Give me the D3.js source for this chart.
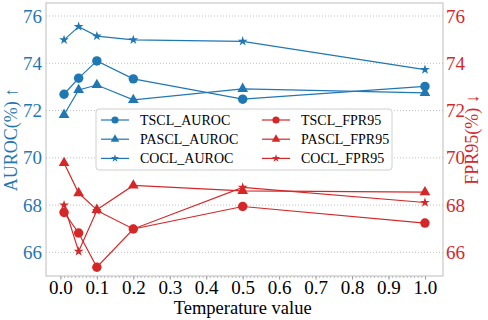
<!DOCTYPE html>
<html>
<head>
<meta charset="utf-8">
<script src="https://cdn.jsdelivr.net/npm/d3@7"></script>
<style>
  body { margin: 0; background: #fff; }
  svg, text { font-family: "Liberation Serif", "DejaVu Serif", serif; }
</style>
</head>
<body>
<div id="chart"></div>
<script>
// temperature values on the x axis
const temps = [0.01, 0.05, 0.1, 0.2, 0.5, 1.0];
const xTicks = [0, 0.1, 0.2, 0.3, 0.4, 0.5, 0.6, 0.7, 0.8, 0.9, 1.0];
const yTicks = [66, 68, 70, 72, 74, 76];

// AUROC series (left axis)
const tsclAuroc  = [72.69, 73.37, 74.10, 73.34, 72.48, 73.02];
const pasclAuroc = [71.82, 72.87, 73.08, 72.45, 72.92, 72.75];
const coclAuroc  = [74.99, 75.55, 75.15, 74.99, 74.93, 73.73];

// FPR95 series (right axis)
const tsclFpr  = [67.69, 66.82, 65.37, 66.99, 67.94, 67.24];
const pasclFpr = [69.78, 68.51, 67.80, 68.83, 68.60, 68.55];
const coclFpr  = [68.00, 66.04, 67.77, 66.99, 68.75, 68.11];

const blue = "#1f77b4", red = "#d62728";

const series = [
  {name: "TSCL_AUROC", values: tsclAuroc, color: blue, marker: "circle", axis: "left"},
  {name: "PASCL_AUROC", values: pasclAuroc, color: blue, marker: "triangle", axis: "left"},
  {name: "COCL_AUROC", values: coclAuroc, color: blue, marker: "star", axis: "left"},
  {name: "TSCL_FPR95", values: tsclFpr, color: red, marker: "circle", axis: "right"},
  {name: "PASCL_FPR95", values: pasclFpr, color: red, marker: "triangle", axis: "right"},
  {name: "COCL_FPR95", values: coclFpr, color: red, marker: "star", axis: "right"}
];

const width = 488, height = 320;
const margin = {top: 3, right: 45, bottom: 44, left: 46};
const w = width - margin.left - margin.right;
const h = height - margin.top - margin.bottom;

const svg = d3.select("#chart").append("svg")
  .attr("width", width)
  .attr("height", height);

const g = svg.append("g")
  .attr("transform", `translate(${margin.left},${margin.top})`);

const x = d3.scaleLinear().domain([-0.0395, 1.0495]).range([0, w]);
const yLeft = d3.scaleLinear().domain([65.0, 76.55]).range([h, 0]);
const yRight = d3.scaleLinear().domain([65.0, 76.55]).range([h, 0]);

// dotted grid
g.append("g").selectAll("line").data(yTicks).enter().append("line")
  .attr("x1", 0).attr("x2", w)
  .attr("y1", d => yLeft(d)).attr("y2", d => yLeft(d))
  .attr("stroke", "#b0b0b0")
  .attr("stroke-width", 0.8)
  .attr("stroke-dasharray", "1,2");

// x axis: minor ticks then majors
const xAxis = g.append("g")
  .attr("transform", `translate(0,${h})`)
  .call(d3.axisBottom(x).tickValues(d3.range(0, 101).map(d => d / 100)).tickSize(2).tickFormat(""));
xAxis.select(".domain").remove();
xAxis.selectAll("line").attr("stroke", "#999").attr("stroke-width", 0.7);

const xAxisMajor = g.append("g")
  .attr("transform", `translate(0,${h})`)
  .call(d3.axisBottom(x).tickValues(xTicks).tickSize(3.5).tickPadding(1.5).tickFormat(d3.format(".1f")));
xAxisMajor.select(".domain").remove();
xAxisMajor.selectAll("line").attr("stroke", "#999");
xAxisMajor.selectAll("text")
  .attr("font-size", 19)
  .attr("fill", "#000")
  .style("font-family", "Liberation Serif");

// left y axis
const yAxisL = g.append("g")
  .call(d3.axisLeft(yLeft).tickValues(yTicks).tickSize(0).tickPadding(4));
yAxisL.select(".domain").remove();
yAxisL.selectAll("text")
  .attr("font-size", 19)
  .attr("fill", blue)
  .style("font-family", "Liberation Serif");

// right y axis
const yAxisR = g.append("g")
  .attr("transform", `translate(${w},0)`)
  .call(d3.axisRight(yRight).tickValues(yTicks).tickSize(0).tickPadding(3));
yAxisR.select(".domain").remove();
yAxisR.selectAll("text")
  .attr("font-size", 19)
  .attr("fill", red)
  .style("font-family", "Liberation Serif");

// frame
g.append("rect")
  .attr("width", w).attr("height", h)
  .attr("fill", "none")
  .attr("stroke", "#bdbdbd")
  .attr("stroke-width", 1);

function symbolFor(marker, big) {
  if (marker === "circle") return d3.symbol().type(d3.symbolCircle).size(big ? 70 : 40);
  if (marker === "triangle") return d3.symbol().type(d3.symbolTriangle).size(big ? 50 : 32);
  return d3.symbol().type(d3.symbolStar).size(big ? 30 : 20);
}

series.forEach(s => {
  const yScale = s.axis === "left" ? yLeft : yRight;
  const line = d3.line()
    .x((d, i) => x(temps[i]))
    .y(d => yScale(d));
  g.append("path")
    .datum(s.values)
    .attr("fill", "none")
    .attr("stroke", s.color)
    .attr("stroke-width", 1.2)
    .attr("d", line);
  g.selectAll(null).data(s.values).enter().append("path")
    .attr("d", symbolFor(s.marker, true)())
    .attr("transform", (d, i) => `translate(${x(temps[i])},${yScale(d)})`)
    .attr("fill", s.color);
});

// legend
const legend = g.append("g").attr("transform", "translate(50,106)");
legend.append("rect")
  .attr("width", 296).attr("height", 61)
  .attr("rx", 3)
  .attr("fill", "#fff").attr("fill-opacity", 0.85)
  .attr("stroke", "#d0d0d0");

series.forEach((s, i) => {
  const col = i < 3 ? 0 : 1;
  const row = i % 3;
  const lx = 5 + col * 161;
  const ly = 11 + row * 19.2;
  const item = legend.append("g").attr("transform", `translate(${lx},${ly})`);
  item.append("line")
    .attr("x1", 0).attr("x2", 28)
    .attr("stroke", s.color).attr("stroke-width", 1.2);
  item.append("path")
    .attr("d", symbolFor(s.marker, false)())
    .attr("transform", "translate(14,0)")
    .attr("fill", s.color);
  item.append("text")
    .attr("x", 39).attr("y", 0)
    .attr("dy", "0.35em")
    .attr("font-size", 14)
    .attr("fill", "#000")
    .text(s.name);
});

// axis labels
svg.append("text")
  .attr("x", margin.left + x(0.5))
  .attr("y", 313.5)
  .attr("text-anchor", "middle")
  .attr("font-size", 18.5)
  .attr("fill", "#000")
  .text("Temperature value");

svg.append("text")
  .attr("transform", `translate(17,${margin.top + h / 2}) rotate(-90)`)
  .attr("text-anchor", "middle")
  .attr("font-size", 18)
  .attr("fill", blue)
  .text("AUROC(%) ↑");

svg.append("text")
  .attr("transform", `translate(478,${margin.top + h / 2}) rotate(-90)`)
  .attr("text-anchor", "middle")
  .attr("font-size", 18)
  .attr("fill", red)
  .text("FPR95(%) ↓");
</script>
</body>
</html>
